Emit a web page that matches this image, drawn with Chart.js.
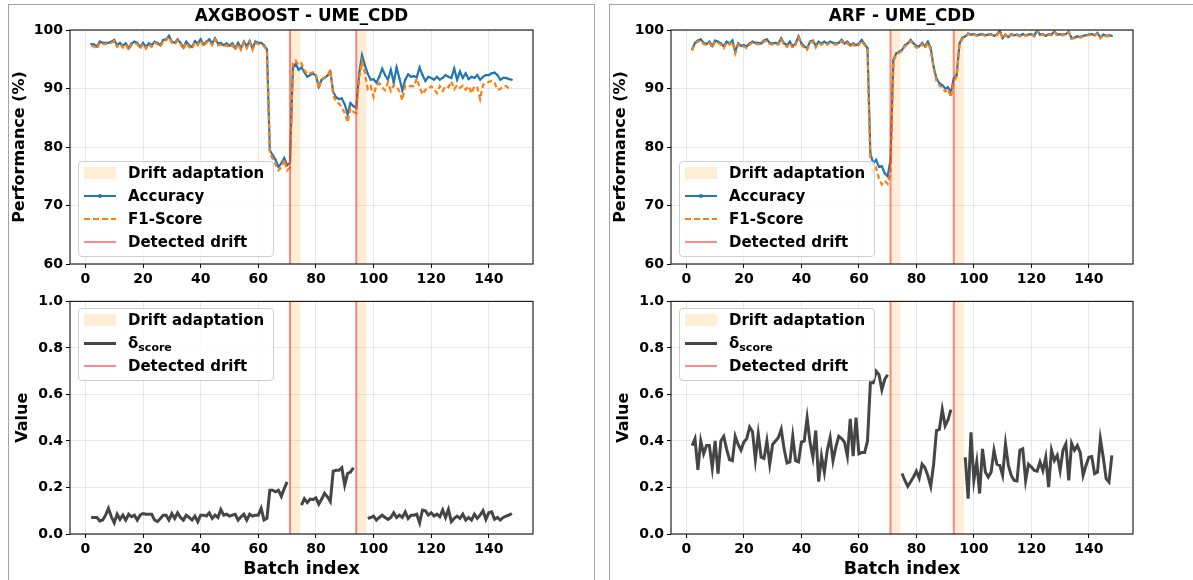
<!DOCTYPE html>
<html>
<head>
<meta charset="utf-8">
<script src="https://cdn.jsdelivr.net/npm/chart.js@4.4.1/dist/chart.umd.min.js"></script>
<style>
body { margin: 0; background: #fff; font-family: "DejaVu Sans", sans-serif; }
#wrap { position: relative; width: 1193px; height: 580px; overflow: hidden; }
.frame { position: absolute; border: 1px solid #a4a4a4; box-sizing: border-box; }
.cv { position: absolute; }
.legend { position: absolute; width: 196px; border: 1px solid #cfcfcf; border-radius: 4px;
  background: rgba(255,255,255,0.8); box-sizing: border-box; font-weight: bold; font-size: 15px; color: #000; z-index: 5; }
.row { position: relative; height: 23px; line-height: 23px; padding-left: 49px; white-space: nowrap; }
.smp { position: absolute; left: 5px; width: 32px; }
.row sub { font-size: 11px; vertical-align: -3px; }
</style>
</head>
<body>
<div id="wrap">
  <div class="frame" style="left:8px;top:4px;width:587px;height:700px;"></div>
  <div class="frame" style="left:609px;top:4px;width:700px;height:700px;"></div>
  <canvas id="c1" class="cv" width="595" height="290" style="left:0;top:0;"></canvas>
  <canvas id="c2" class="cv" width="595" height="290" style="left:0;top:290px;"></canvas>
  <canvas id="c3" class="cv" width="593" height="290" style="left:600px;top:0;"></canvas>
  <canvas id="c4" class="cv" width="593" height="290" style="left:600px;top:290px;"></canvas>
</div>
<script>
// batch index runs from 2 to 148
const firstBatch = 2;
const xTicks = [0, 20, 40, 60, 80, 100, 120, 140];
const perfTicks = [60, 70, 80, 90, 100];
const valueTicks = [0, 0.2, 0.4, 0.6, 0.8, 1.0];

// AXGBOOST - UME_CDD
const axgAcc = [
  97.6, 97.5, 97.2, 98.0, 97.8, 97.8, 97.8, 98.0, 98.3, 97.4,
  97.8, 97.3, 97.7, 96.9, 97.7, 98.0, 97.8, 97.1, 97.8, 97.1,
  97.7, 97.4, 98.0, 97.8, 97.4, 98.3, 98.4, 99.0, 98.0, 97.8,
  98.4, 97.8, 97.0, 98.0, 97.4, 97.1, 98.1, 97.7, 98.4, 97.5,
  98.0, 98.4, 97.7, 98.6, 97.7, 97.8, 97.4, 97.7, 97.3, 97.7,
  96.9, 97.8, 96.9, 98.0, 97.2, 98.1, 96.9, 98.0, 97.8, 97.8,
  97.4, 96.7, 79.5, 78.6, 77.8, 76.6, 77.2, 78.1, 76.9, 77.3,
  93.5, 94.2, 93.2, 93.6, 92.8, 92.0, 92.3, 92.6, 92.2, 90.3,
  91.5, 91.8, 92.2, 92.9, 89.4, 88.5, 88.2, 88.3, 87.3, 85.6,
  87.5, 87.0, 86.7, 92.5, 95.7, 94.0, 92.5, 91.5, 91.6, 91.0,
  92.0, 93.4, 92.3, 91.5, 93.2, 91.0, 93.6, 91.7, 89.7, 91.5,
  92.4, 92.0, 92.1, 91.9, 93.6, 92.3, 91.3, 92.0, 91.8, 91.5,
  92.0, 91.5, 91.8, 92.3, 92.0, 91.8, 93.4, 91.5, 92.9, 91.8,
  92.6, 91.6, 92.0, 91.8, 92.3, 91.5, 92.0, 92.3, 92.3, 92.6,
  92.7, 92.3, 91.5, 91.8, 91.8, 91.6, 91.5
];
const axgF1 = [
  97.3, 97.2, 96.8, 97.8, 97.6, 97.6, 97.7, 97.8, 98.1, 97.1,
  97.6, 97.0, 97.5, 96.6, 97.5, 97.8, 97.6, 96.8, 97.6, 96.8,
  97.5, 97.1, 97.8, 97.6, 97.1, 98.1, 98.2, 98.8, 97.8, 97.5,
  98.2, 97.6, 96.7, 97.8, 97.1, 96.8, 97.9, 97.4, 98.2, 97.2,
  97.8, 98.2, 97.4, 98.4, 97.4, 97.5, 97.1, 97.4, 97.0, 97.4,
  96.6, 97.6, 96.6, 97.8, 96.9, 97.9, 96.6, 97.8, 97.6, 97.6,
  97.2, 96.5, 79.0, 78.0, 77.0, 76.0, 76.5, 77.8, 76.0, 76.5,
  94.3, 94.8, 94.0, 94.3, 93.2, 92.4, 92.6, 92.8, 92.5, 90.0,
  91.6, 91.9, 92.2, 93.2, 88.8, 87.8, 87.4, 86.8, 85.8, 84.2,
  86.6, 86.0, 85.8, 91.8, 94.6, 92.6, 89.9, 90.4, 88.6, 90.6,
  90.9, 90.2, 89.7, 91.0, 89.6, 90.6, 90.3, 89.5, 88.0, 90.5,
  90.4, 90.4, 90.4, 91.7, 90.2, 89.0, 89.8, 89.9, 90.4, 90.0,
  89.2, 90.4, 89.6, 90.4, 90.2, 91.2, 89.9, 90.6, 90.1, 90.5,
  89.8, 90.4, 89.2, 90.4, 90.2, 88.2, 90.6, 90.9, 91.1, 91.3,
  91.0, 89.8, 89.9, 90.4, 90.4, 90.0, 90.1
];
const axgDelta = [
  0.071, 0.071, 0.071, 0.056, 0.060, 0.081, 0.110, 0.074, 0.048, 0.085,
  0.063, 0.081, 0.060, 0.085, 0.074, 0.081, 0.060, 0.081, 0.088, 0.085,
  0.085, 0.085, 0.060, 0.053, 0.067, 0.081, 0.081, 0.060, 0.088, 0.067,
  0.091, 0.071, 0.060, 0.081, 0.071, 0.060, 0.077, 0.053, 0.081, 0.081,
  0.077, 0.091, 0.067, 0.081, 0.071, 0.105, 0.081, 0.085, 0.077, 0.081,
  0.085, 0.060, 0.074, 0.085, 0.060, 0.085, 0.077, 0.081, 0.081, 0.110,
  0.060, 0.067, 0.188, 0.188, 0.181, 0.188, 0.162, 0.195, 0.224,
  null, null, null, null,
  0.124, 0.152, 0.135, 0.150, 0.148, 0.155, 0.128, 0.150, 0.175, 0.160,
  0.140, 0.270, 0.274, 0.274, 0.285, 0.210, 0.260, 0.266, 0.285,
  null, null, null, null,
  0.067, 0.071, 0.077, 0.060, 0.071, 0.081, 0.071, 0.063, 0.071, 0.091,
  0.071, 0.081, 0.071, 0.095, 0.067, 0.081, 0.081, 0.085, 0.048, 0.103,
  0.100, 0.081, 0.091, 0.077, 0.085, 0.074, 0.103, 0.071, 0.105, 0.053,
  0.067, 0.077, 0.067, 0.085, 0.060, 0.071, 0.060, 0.085, 0.067, 0.081,
  0.100, 0.063, 0.091, 0.095, 0.063, 0.071, 0.060, 0.071, 0.077, 0.081,
  0.088
];
const axgDrifts = [71, 94];
const axgAdaptEnd = [74.6, 97.6];

// ARF - UME_CDD
const arfAcc = [
  96.7, 97.8, 98.2, 98.4, 97.8, 97.6, 98.0, 97.3, 98.2, 98.0,
  97.7, 97.2, 98.0, 97.7, 98.2, 96.3, 97.7, 97.3, 97.4, 97.2,
  97.7, 98.0, 97.8, 97.8, 97.7, 98.2, 98.4, 97.8, 97.7, 97.8,
  97.7, 98.6, 97.7, 97.4, 98.0, 97.2, 97.7, 98.9, 97.7, 97.2,
  96.9, 98.0, 98.2, 97.3, 98.0, 97.7, 98.0, 97.7, 98.0, 97.8,
  97.7, 97.8, 98.3, 97.7, 98.0, 97.4, 97.7, 97.4, 97.7, 98.3,
  97.6, 96.9, 78.9, 77.2, 77.8, 76.6, 76.7, 75.5, 75.0, 77.8,
  94.9, 96.0, 96.3, 96.6, 97.4, 97.7, 98.3, 97.7, 97.3, 97.2,
  97.8, 97.2, 98.0, 96.9, 93.7, 91.7, 90.9, 90.6, 90.0, 90.2,
  89.3, 91.7, 92.3, 97.7, 98.7, 98.9, 99.4, 99.2, 99.3, 99.1,
  99.2, 99.3, 99.1, 99.2, 99.3, 99.0, 99.2, 99.9, 98.6, 99.2,
  98.8, 99.3, 99.1, 99.2, 99.0, 99.3, 99.1, 99.2, 99.3, 99.0,
  100.0, 99.2, 99.3, 99.0, 99.3, 99.2, 99.8, 99.2, 99.3, 99.2,
  99.3, 99.7, 98.6, 98.7, 98.9, 98.8, 99.0, 99.1, 99.2, 99.3,
  99.1, 99.5, 98.7, 99.2, 99.0, 99.1, 99.0
];
const arfF1 = [
  96.5, 97.6, 98.0, 98.2, 97.6, 97.4, 97.8, 97.0, 98.0, 97.8,
  97.5, 96.9, 97.8, 97.5, 98.0, 96.0, 97.5, 97.1, 97.2, 96.9,
  97.5, 97.8, 97.6, 97.6, 97.5, 98.0, 98.2, 97.6, 97.5, 97.6,
  97.5, 98.4, 97.5, 97.1, 97.8, 96.9, 97.5, 98.7, 97.5, 96.9,
  96.6, 97.8, 98.0, 97.0, 97.8, 97.5, 97.8, 97.5, 97.8, 97.6,
  97.5, 97.6, 98.1, 97.5, 97.8, 97.1, 97.5, 97.1, 97.5, 98.1,
  97.4, 96.6, 76.8, 75.6, 76.4, 74.6, 73.6, 74.2, 73.7, 75.6,
  94.6, 95.8, 96.1, 96.4, 97.2, 97.5, 98.1, 97.5, 97.0, 97.0,
  97.6, 96.9, 97.8, 96.6, 93.4, 91.3, 90.5, 90.1, 89.5, 89.9,
  88.5, 91.3, 92.0, 97.5, 98.5, 98.8, 99.3, 99.1, 99.2, 99.0,
  99.1, 99.2, 99.0, 99.1, 99.2, 98.9, 99.1, 99.8, 98.5, 99.1,
  98.7, 99.2, 99.0, 99.1, 98.9, 99.2, 99.0, 99.1, 99.2, 98.9,
  99.9, 99.1, 99.2, 98.9, 99.2, 99.1, 99.7, 99.1, 99.2, 99.1,
  99.2, 99.6, 98.5, 98.6, 98.8, 98.7, 98.9, 99.0, 99.1, 99.2,
  99.0, 99.4, 98.6, 99.1, 98.9, 99.0, 98.9
];
const arfDelta = [
  0.380, 0.410, 0.276, 0.400, 0.345, 0.380, 0.380, 0.285, 0.400, 0.260,
  0.400, 0.420, 0.365, 0.320, 0.315, 0.420, 0.385, 0.360, 0.395, 0.410,
  0.460, 0.440, 0.320, 0.430, 0.330, 0.325, 0.400, 0.300, 0.385, 0.400,
  0.415, 0.450, 0.365, 0.305, 0.310, 0.420, 0.315, 0.310, 0.395, 0.400,
  0.500, 0.395, 0.330, 0.445, 0.225, 0.335, 0.265, 0.360, 0.415, 0.315,
  0.375, 0.420, 0.410, 0.395, 0.335, 0.495, 0.335, 0.500, 0.345, 0.350,
  0.350, 0.400, 0.650, 0.650, 0.700, 0.685, 0.620, 0.665, 0.685,
  null, null, null, null,
  0.260, 0.230, 0.205, 0.225, 0.245, 0.270, 0.240, 0.300, 0.285, 0.250,
  0.205, 0.300, 0.445, 0.450, 0.535, 0.465, 0.490, 0.535,
  null, null, null, null,
  0.330, 0.152, 0.437, 0.230, 0.310, 0.174, 0.366, 0.266, 0.245, 0.266,
  0.360, 0.300, 0.295, 0.252, 0.387, 0.295, 0.252, 0.230, 0.228, 0.360,
  0.366, 0.230, 0.300, 0.288, 0.273, 0.270, 0.310, 0.273, 0.330, 0.202,
  0.360, 0.316, 0.338, 0.273, 0.360, 0.387, 0.230, 0.390, 0.360, 0.380,
  0.350, 0.252, 0.295, 0.330, 0.333, 0.259, 0.266, 0.409, 0.330, 0.238,
  0.224, 0.338
];
const arfDrifts = [71, 93];
const arfAdaptEnd = [74.5, 96.5];

const colAcc = '#1f77b4';
const colF1 = '#ff7f0e';
const colDelta = '#454545';
const colDrift = 'rgba(255, 40, 30, 0.55)';
const colBand = 'rgba(255, 165, 50, 0.2)';

Chart.defaults.font.family = '"DejaVu Sans", sans-serif';
Chart.defaults.color = '#000';

const toPoints = vals => vals.map((v, i) => ({ x: firstBatch + i, y: v }));

// bands under the lines, drift lines, frame and title on top
const driftPlugin = {
  id: 'drift',
  beforeDatasetsDraw(chart, args, opts) {
    const { ctx, chartArea: a, scales: { x } } = chart;
    ctx.save();
    ctx.fillStyle = colBand;
    opts.starts.forEach((s, i) => {
      const x0 = x.getPixelForValue(s);
      const x1 = x.getPixelForValue(opts.ends[i]);
      ctx.fillRect(x0, a.top, x1 - x0, a.bottom - a.top);
    });
    ctx.restore();
  },
  afterDatasetsDraw(chart, args, opts) {
    const { ctx, chartArea: a, scales: { x } } = chart;
    ctx.save();
    ctx.strokeStyle = colDrift;
    ctx.lineWidth = 2;
    opts.starts.forEach(s => {
      const px = x.getPixelForValue(s);
      ctx.beginPath();
      ctx.moveTo(px, a.top);
      ctx.lineTo(px, a.bottom);
      ctx.stroke();
    });
    ctx.strokeStyle = '#222';
    ctx.lineWidth = 1.2;
    ctx.strokeRect(a.left, a.top, a.right - a.left, a.bottom - a.top);
    if (opts.title) {
      ctx.fillStyle = '#000';
      ctx.font = 'bold 16.8px "DejaVu Sans", sans-serif';
      ctx.textAlign = 'center';
      ctx.textBaseline = 'middle';
      ctx.fillText(opts.title, (a.left + a.right) / 2, 16.5);
    }
    ctx.restore();
  }
};

function buildChart(id, o) {
  const tickFont = { size: 14, weight: 'bold' };
  return new Chart(document.getElementById(id), {
    type: 'line',
    data: { datasets: o.datasets },
    options: {
      responsive: false,
      animation: false,
      layout: { padding: o.padding },
      plugins: {
        legend: { display: false },
        tooltip: { enabled: false },
        title: { display: false },
        drift: { starts: o.drifts, ends: o.ends, title: o.title }
      },
      scales: {
        x: {
          type: 'linear',
          min: -5.35,
          max: 155.35,
          afterBuildTicks: s => { s.ticks = xTicks.map(v => ({ value: v })); },
          afterFit: s => { s.height = o.xHeight; },
          ticks: { font: tickFont, color: '#000', padding: 3, maxRotation: 0, callback: v => v },
          grid: { color: 'rgba(0,0,0,0.09)', tickColor: '#000', tickLength: 4, lineWidth: 1 },
          border: { display: false },
          title: o.xTitle
            ? { display: true, text: o.xTitle, color: '#000', font: { size: 17.5, weight: 'bold' }, padding: { top: 0, bottom: 0.5 } }
            : { display: false }
        },
        y: {
          min: o.yTicks[0],
          max: o.yTicks[o.yTicks.length - 1],
          afterBuildTicks: s => { s.ticks = o.yTicks.map(v => ({ value: v })); },
          afterFit: s => { s.width = o.yWidth; },
          ticks: { font: tickFont, color: '#000', padding: 3, callback: o.yFormat },
          grid: { color: 'rgba(0,0,0,0.09)', tickColor: '#000', tickLength: 4, lineWidth: 1 },
          border: { display: false },
          title: { display: true, text: o.yTitle, color: '#000', font: { size: 16, weight: 'bold' }, padding: { top: o.yTitlePad, bottom: 0 } }
        }
      }
    },
    plugins: [driftPlugin]
  });
}

function perfSets(acc, f1) {
  return [
    { label: 'F1-Score', data: toPoints(f1), borderColor: colF1, borderWidth: 2.2, borderDash: [5, 3],
      pointRadius: 0, tension: 0, order: 0 },
    { label: 'Accuracy', data: toPoints(acc), borderColor: colAcc, backgroundColor: colAcc, borderWidth: 2.2,
      pointRadius: 1.1, pointBorderWidth: 0, tension: 0, order: 1 }
  ];
}
function deltaSets(delta) {
  return [
    { label: 'δscore', data: toPoints(delta), borderColor: colDelta, borderWidth: 3, pointRadius: 0,
      spanGaps: false, tension: 0 }
  ];
}

buildChart('c1', {
  title: 'AXGBOOST - UME_CDD', datasets: perfSets(axgAcc, axgF1),
  padding: { left: 0, top: 30, right: 62, bottom: 0 }, xHeight: 26, yWidth: 70,
  yTicks: perfTicks, yFormat: v => v, yTitle: 'Performance (%)', yTitlePad: 10,
  drifts: axgDrifts, ends: axgAdaptEnd
});
buildChart('c2', {
  datasets: deltaSets(axgDelta), xTitle: 'Batch index',
  padding: { left: 0, top: 10, right: 62, bottom: 0 }, xHeight: 46, yWidth: 70,
  yTicks: valueTicks, yFormat: v => v.toFixed(1), yTitle: 'Value', yTitlePad: 13.5,
  drifts: axgDrifts, ends: axgAdaptEnd
});
buildChart('c3', {
  title: 'ARF - UME_CDD', datasets: perfSets(arfAcc, arfF1),
  padding: { left: 0, top: 30, right: 60, bottom: 0 }, xHeight: 26, yWidth: 71,
  yTicks: perfTicks, yFormat: v => v, yTitle: 'Performance (%)', yTitlePad: 11.5,
  drifts: arfDrifts, ends: arfAdaptEnd
});
buildChart('c4', {
  datasets: deltaSets(arfDelta), xTitle: 'Batch index',
  padding: { left: 0, top: 10, right: 60, bottom: 0 }, xHeight: 46, yWidth: 71,
  yTicks: valueTicks, yFormat: v => v.toFixed(1), yTitle: 'Value', yTitlePad: 14.5,
  drifts: arfDrifts, ends: arfAdaptEnd
});

// legends drawn as html boxes over the plots
const perfLegend = [
  { kind: 'patch', label: 'Drift adaptation' },
  { kind: 'acc', label: 'Accuracy' },
  { kind: 'f1', label: 'F1-Score' },
  { kind: 'drift', label: 'Detected drift' }
];
const deltaLegend = [
  { kind: 'patch', label: 'Drift adaptation' },
  { kind: 'delta', label: 'δ<sub>score</sub>' },
  { kind: 'drift', label: 'Detected drift' }
];

function sampleHtml(kind) {
  if (kind === 'patch') return `<div class="smp" style="top:5px;height:12px;background:${colBand};"></div>`;
  if (kind === 'acc') return `<div class="smp" style="top:10px;height:2px;background:${colAcc};"></div>` +
    `<div style="position:absolute;left:19px;top:9px;width:4px;height:4px;border-radius:2px;background:${colAcc};"></div>`;
  if (kind === 'f1') return `<div class="smp" style="top:10px;height:2px;background:repeating-linear-gradient(90deg, ${colF1} 0 6px, transparent 6px 9px);"></div>`;
  if (kind === 'delta') return `<div class="smp" style="top:10px;height:3px;background:${colDelta};"></div>`;
  return `<div class="smp" style="top:10px;height:2px;background:${colDrift};"></div>`;
}

function addLegend(left, top, items) {
  const box = document.createElement('div');
  box.className = 'legend';
  box.style.left = left + 'px';
  box.style.top = top + 'px';
  box.style.height = (items.length * 23 + 4) + 'px';
  box.innerHTML = items.map(it => `<div class="row">${sampleHtml(it.kind)}${it.label}</div>`).join('');
  document.getElementById('wrap').appendChild(box);
}

addLegend(78, 161, perfLegend);
addLegend(78, 308, deltaLegend);
addLegend(679, 161, perfLegend);
addLegend(679, 308, deltaLegend);
</script>
</body>
</html>
